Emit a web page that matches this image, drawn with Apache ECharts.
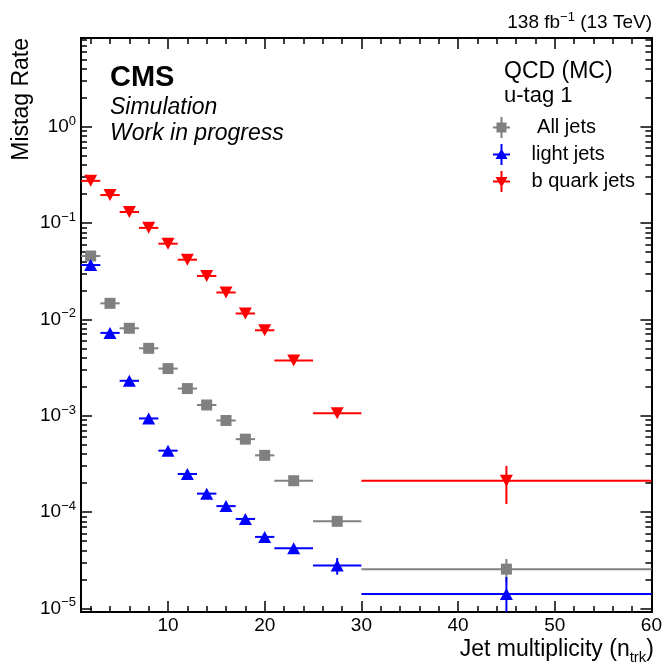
<!DOCTYPE html>
<html>
<head>
<meta charset="utf-8">
<script src="https://cdn.jsdelivr.net/npm/echarts@6/dist/echarts.min.js"></script>
<style>
  html, body { margin: 0; padding: 0; background: #ffffff; }
  #chart { width: 665px; height: 663px; }
</style>
</head>
<body>
<div id="chart"></div>
<script>
// Track-multiplicity bins (edges and centres)
const binLow    = [1, 3, 5, 7, 9, 11, 13, 15, 17, 19, 21, 25, 30];
const binHigh   = [3, 5, 7, 9, 11, 13, 15, 17, 19, 21, 25, 30, 60];
const binCenter = [2, 4, 6, 8, 10, 12, 14, 16, 18, 20, 23, 27.5, 45];

// Mistag rate per bin and its statistical uncertainty
const allJets    = [0.0454, 0.01465, 0.00807, 0.0050, 0.00308, 0.00191, 0.00129, 0.000891, 0.000570, 0.000387, 0.000211, 0.0000800, 0.0000255];
const allJetsErr = [0.0005, 0.0002, 0.0001, 0.00006, 0.00004, 0.00002, 0.000015, 0.00001, 0.000008, 0.000006, 0.000004, 0.000004, 0.000007];

const lightJets    = [0.0366, 0.00723, 0.00230, 0.000935, 0.000433, 0.000248, 0.000155, 0.000115, 0.0000846, 0.0000551, 0.0000420, 0.0000278, 0.0000141];
const lightJetsErr = [0.0005, 0.0001, 0.00004, 0.00002, 0.00001, 0.000006, 0.000004, 0.000003, 0.0000025, 0.000002, 0.000002, 0.0000055, 0.000007];

const bJets    = [0.274, 0.195, 0.130, 0.089, 0.061, 0.0416, 0.0282, 0.0190, 0.0115, 0.0077, 0.00373, 0.00106, 0.000211];
const bJetsErr = [0.003, 0.002, 0.0015, 0.001, 0.0008, 0.0006, 0.0004, 0.0003, 0.0002, 0.00015, 0.0001, 0.00006, 0.00009];

// Axis ticks
const xMajorTicks = [10, 20, 30, 40, 50, 60];
const xMinorTicks = [2, 4, 6, 8, 12, 14, 16, 18, 22, 24, 26, 28, 32, 34, 36, 38, 42, 44, 46, 48, 52, 54, 56, 58];
const yDecades = [1e-5, 1e-4, 1e-3, 1e-2, 1e-1, 1];
const yMantissas = [2, 3, 4, 5, 6, 7, 8, 9];
const yMinorTicks = [];
yDecades.forEach(d => yMantissas.forEach(m => { if (m * d < 8.33) yMinorTicks.push(+(m * d).toPrecision(3)); }));

const X_MIN = 1, X_MAX = 60;
const Y_MIN = 9.15e-6, Y_MAX = 8.33;

const FONT = 'Liberation Sans';
const GRAY = '#808080', BLUE = '#0000ff', RED = '#ff0000';

const chart = echarts.init(document.getElementById('chart'), null, { renderer: 'canvas' });

const frameLine = { show: true, onZero: false, lineStyle: { color: '#000', width: 2 } };
const tickLine = { color: '#000', width: 1.5 };

function xAxisDef(position, ticks, len, withLabels) {
  return {
    type: 'value', position, min: X_MIN, max: X_MAX,
    axisLine: frameLine, splitLine: { show: false },
    axisTick: { show: true, inside: true, length: len, customValues: ticks, lineStyle: tickLine },
    axisLabel: withLabels ? {
      show: true, customValues: xMajorTicks, margin: 4,
      fontSize: 19, color: '#000', fontFamily: FONT
    } : { show: false }
  };
}

function powerLabel(v) {
  const e = Math.round(Math.log10(v));
  return '{b|10}{s|' + (e < 0 ? '\u2212' + (-e) : String(e)) + '}';
}

function yAxisDef(position, ticks, len, withLabels) {
  return {
    type: 'log', logBase: 10, position, min: Y_MIN, max: Y_MAX,
    axisLine: frameLine, splitLine: { show: false }, minorTick: { show: false },
    axisTick: { show: true, inside: true, length: len, customValues: ticks, lineStyle: tickLine },
    axisLabel: withLabels ? {
      show: true, customValues: yDecades, margin: 5, formatter: powerLabel,
      rich: {
        b: { fontSize: 19, lineHeight: 24, color: '#000', fontFamily: FONT },
        s: { fontSize: 13, lineHeight: 14, verticalAlign: 'top', color: '#000', fontFamily: FONT }
      }
    } : { show: false }
  };
}

function errorBars(name, color, vals, errs) {
  return {
    type: 'custom', name, xAxisIndex: 0, yAxisIndex: 0, clip: true, silent: true, z: 2,
    data: binCenter.map((c, i) => [c, vals[i], binLow[i], binHigh[i], errs[i]]),
    encode: { x: 0, y: 1 },
    renderItem(params, api) {
      const c = api.value(0), v = api.value(1), lo = api.value(2), hi = api.value(3), e = api.value(4);
      const a = api.coord([lo, v]), b = api.coord([hi, v]);
      const t = api.coord([c, v + e]), d = api.coord([c, v - e]);
      const st = { stroke: color, lineWidth: 2 };
      return {
        type: 'group', children: [
          { type: 'line', shape: { x1: a[0], y1: a[1], x2: b[0], y2: b[1] }, style: st },
          { type: 'line', shape: { x1: t[0], y1: t[1], x2: d[0], y2: d[1] }, style: st }
        ]
      };
    }
  };
}

function markers(name, color, vals, symbol, size, rotate) {
  return {
    type: 'scatter', name, xAxisIndex: 0, yAxisIndex: 0, silent: true, z: 3,
    symbol, symbolSize: size, symbolRotate: rotate || 0,
    itemStyle: { color, opacity: 1 },
    data: binCenter.map((c, i) => [c, vals[i]])
  };
}

// Legend icons: error cross with the marker on top
const ICON_SQUARE = 'path://M0,9.5H17V11.5H0Z M7.5,0H9.5V21H7.5Z M3.5,5.5H13.5V15.5H3.5Z';
const ICON_UP     = 'path://M0,9.5H17V11.5H0Z M7.5,0H9.5V21H7.5Z M8.5,4.5L14.5,15L2.5,15Z';
const ICON_DOWN   = 'path://M0,9.5H17V11.5H0Z M7.5,0H9.5V21H7.5Z M2.5,6L14.5,6L8.5,16.5Z';

function textEl(x, y, text, opts) {
  return Object.assign({
    type: 'text', x, y, silent: true,
    style: Object.assign({ text, fill: '#000', fontFamily: FONT, align: 'left', verticalAlign: 'middle' }, opts.style)
  }, opts.el || {});
}

const option = {
  animation: false,
  backgroundColor: '#ffffff',
  textStyle: { fontFamily: FONT },
  grid: { left: 81, right: 9, top: 38, bottom: 51, containLabel: false },
  xAxis: [
    xAxisDef('bottom', xMajorTicks, 11, true),
    xAxisDef('bottom', xMinorTicks, 6, false),
    xAxisDef('top', xMajorTicks, 11, false),
    xAxisDef('top', xMinorTicks, 6, false)
  ],
  yAxis: [
    yAxisDef('left', yDecades, 11, true),
    yAxisDef('left', yMinorTicks, 6, false),
    yAxisDef('right', yDecades, 11, false),
    yAxisDef('right', yMinorTicks, 6, false)
  ],
  legend: {
    orient: 'vertical', left: 488, top: 112, padding: 5,
    itemWidth: 50, itemHeight: 21, itemGap: 6, selectedMode: false,
    textStyle: { fontSize: 20, color: '#000', fontFamily: FONT },
    formatter: n => (n === 'All jets' ? ' ' + n : n),
    data: [
      { name: 'All jets', icon: ICON_SQUARE },
      { name: 'light jets', icon: ICON_UP },
      { name: 'b quark jets', icon: ICON_DOWN }
    ]
  },
  series: [
    errorBars('All jets bins', GRAY, allJets, allJetsErr),
    errorBars('light jets bins', BLUE, lightJets, lightJetsErr),
    errorBars('b quark jets bins', RED, bJets, bJetsErr),
    markers('All jets', GRAY, allJets, 'rect', 11),
    markers('light jets', BLUE, lightJets, 'triangle', [13, 12]),
    markers('b quark jets', RED, bJets, 'triangle', [13, 12], 180)
  ],
  graphic: [
    textEl(110, 78, 'CMS', { style: { fontSize: 29, fontWeight: 'bold' } }),
    textEl(110, 108, 'Simulation', { style: { fontSize: 23, fontStyle: 'italic' } }),
    textEl(110, 134, 'Work in progress', { style: { fontSize: 23, fontStyle: 'italic' } }),
    textEl(504, 72, 'QCD (MC)', { style: { fontSize: 23 } }),
    textEl(504, 96, 'u-tag 1', { style: { fontSize: 22 } }),
    textEl(652, 23, '{m|138 fb}{s|\u22121}{m| (13 TeV)}', {
      style: {
        align: 'right',
        rich: {
          m: { fontSize: 19, lineHeight: 24, fontFamily: FONT, fill: '#000' },
          s: { fontSize: 13, lineHeight: 14, verticalAlign: 'top', fontFamily: FONT, fill: '#000' }
        }
      }
    }),
    textEl(22, 38, 'Mistag Rate', { style: { fontSize: 23, align: 'right' }, el: { rotation: Math.PI / 2 } }),
    textEl(654, 650, '{m|Jet multiplicity (n}{d|trk}{m|)}', {
      style: {
        align: 'right',
        rich: {
          m: { fontSize: 23, lineHeight: 30, fontFamily: FONT, fill: '#000' },
          d: { fontSize: 15, lineHeight: 15, verticalAlign: 'bottom', fontFamily: FONT, fill: '#000' }
        }
      }
    })
  ]
};

chart.setOption(option);
</script>
</body>
</html>
